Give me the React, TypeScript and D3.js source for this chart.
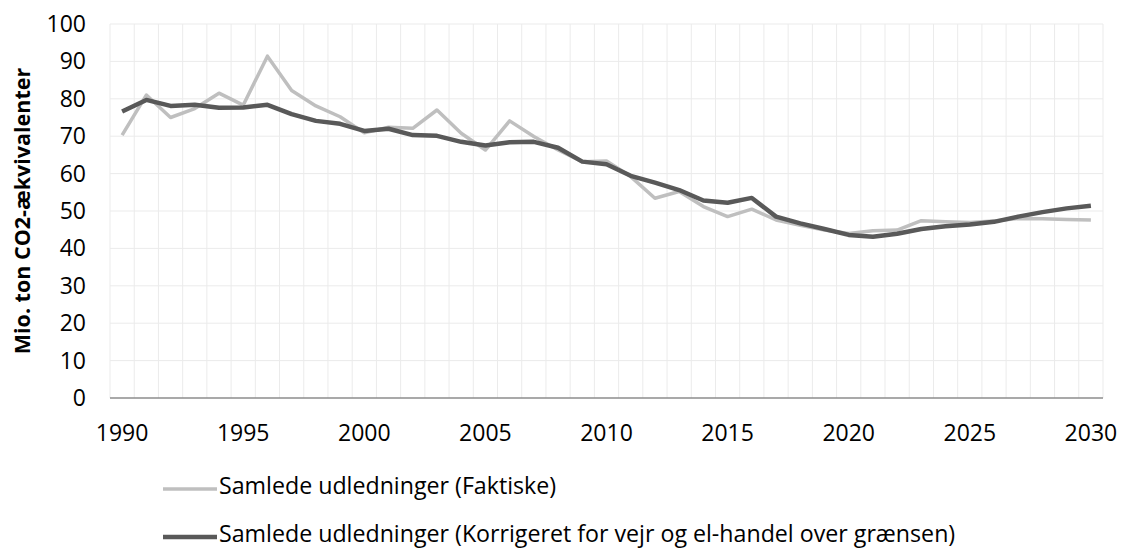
import React, { useEffect, useRef } from 'react';
import * as d3 from 'd3';

// Years on the category axis
const years: number[] = d3.range(1990, 2031);

// Samlede udledninger (Faktiske), Mio. ton CO2-ækvivalenter
const faktiske: number[] = [
    70.3, 81.0, 75.0, 77.4, 81.5, 78.3, 91.4, 82.2, 78.1, 75.2,
    70.9, 72.4, 72.1, 77.0, 70.8, 66.3, 74.1, 69.9, 66.3, 63.2,
    63.4, 59.2, 53.4, 55.2, 51.2, 48.5, 50.5, 47.6, 46.2, 44.9,
    44.0, 44.7, 44.9, 47.4, 47.1, 46.9, 47.3, 48.0, 47.9, 47.7,
    47.6,
];

// Samlede udledninger (Korrigeret for vejr og el-handel over grænsen)
const korrigeret: number[] = [
    76.6, 79.7, 78.1, 78.4, 77.6, 77.7, 78.4, 75.9, 74.1, 73.3,
    71.4, 72.0, 70.3, 70.1, 68.5, 67.5, 68.4, 68.5, 66.9, 63.2,
    62.5, 59.4, 57.6, 55.6, 52.8, 52.2, 53.5, 48.5, 46.7, 45.2,
    43.6, 43.1, 43.9, 45.2, 45.9, 46.4, 47.1, 48.5, 49.7, 50.7,
    51.4,
];

const yTicks: number[] = [0, 10, 20, 30, 40, 50, 60, 70, 80, 90, 100];
const xTickYears: number[] = [1990, 1995, 2000, 2005, 2010, 2015, 2020, 2025, 2030];

const seriesNames: string[] = [
    'Samlede udledninger (Faktiske)',
    'Samlede udledninger (Korrigeret for vejr og el-handel over grænsen)',
];

const App = () => {
    const svgRef = useRef<SVGSVGElement>(null);

    const width = 1121;
    const height = 549;
    const font = '"Open Sans", "Liberation Sans", sans-serif';

    useEffect(() => {
        const svg = d3.select(svgRef.current);
        svg.selectAll('*').remove();

        const left = 110, right = 1103, top = 24, bottom = 398;

        const x = d3.scaleBand<number>().domain(years).range([left, right]).padding(0);
        const y = d3.scaleLinear().domain([0, 100]).range([bottom, top]);
        const cx = (yr: number) => (x(yr) as number) + x.bandwidth() / 2;

        // horizontal gridlines
        svg.append('g')
            .selectAll('line')
            .data(yTicks.filter(t => t > 0))
            .enter()
            .append('line')
            .attr('x1', left).attr('x2', right)
            .attr('y1', d => y(d)).attr('y2', d => y(d))
            .attr('stroke', '#ebebeb')
            .attr('stroke-width', 1);

        // vertical gridlines between categories
        const edges = years.map(yr => x(yr) as number).concat([right]);
        svg.append('g')
            .selectAll('line')
            .data(edges)
            .enter()
            .append('line')
            .attr('x1', d => d).attr('x2', d => d)
            .attr('y1', top).attr('y2', bottom)
            .attr('stroke', '#ebebeb')
            .attr('stroke-width', 1);

        // x axis line
        svg.append('line')
            .attr('x1', left).attr('x2', right)
            .attr('y1', bottom).attr('y2', bottom)
            .attr('stroke', '#8c8c8c')
            .attr('stroke-width', 1.3);

        // y tick labels
        svg.append('g')
            .selectAll('text')
            .data(yTicks)
            .enter()
            .append('text')
            .attr('x', 86)
            .attr('y', d => y(d))
            .attr('dy', '0.35em')
            .attr('text-anchor', 'end')
            .attr('font-family', font)
            .attr('font-size', 23)
            .attr('fill', '#000')
            .text(d => d);

        // x tick labels
        svg.append('g')
            .selectAll('text')
            .data(xTickYears)
            .enter()
            .append('text')
            .attr('x', d => cx(d))
            .attr('y', 441)
            .attr('text-anchor', 'middle')
            .attr('font-family', font)
            .attr('font-size', 23)
            .attr('fill', '#000')
            .text(d => d);

        // y axis title
        svg.append('text')
            .attr('transform', `translate(30, ${(top + bottom) / 2}) rotate(-90)`)
            .attr('text-anchor', 'middle')
            .attr('font-family', font)
            .attr('font-size', 21.5)
            .attr('font-weight', 'bold')
            .attr('fill', '#000')
            .text('Mio. ton CO2-ækvivalenter');

        const line = d3.line<number>()
            .x((_, i) => cx(years[i]))
            .y(d => y(d));

        svg.append('path')
            .datum(faktiske)
            .attr('fill', 'none')
            .attr('stroke', '#bfbfbf')
            .attr('stroke-width', 3.5)
            .attr('stroke-linejoin', 'round')
            .attr('d', line);

        svg.append('path')
            .datum(korrigeret)
            .attr('fill', 'none')
            .attr('stroke', '#595959')
            .attr('stroke-width', 4.5)
            .attr('stroke-linejoin', 'round')
            .attr('d', line);

        // legend
        const legendColors = ['#bfbfbf', '#595959'];
        const legendWidths = [3.5, 4.5];
        const legendY = [489, 537];
        seriesNames.forEach((name, i) => {
            svg.append('line')
                .attr('x1', 163).attr('x2', 217)
                .attr('y1', legendY[i]).attr('y2', legendY[i])
                .attr('stroke', legendColors[i])
                .attr('stroke-width', legendWidths[i]);
            svg.append('text')
                .attr('x', 219)
                .attr('y', legendY[i] + 5)
                .attr('font-family', font)
                .attr('font-size', 23.2)
                .attr('fill', '#000')
                .text(name);
        });
    }, []);

    return (
        <svg
            ref={svgRef}
            width={width}
            height={height}
            style={{ position: 'absolute', left: 0, top: 0, background: '#fff' }}
        />
    );
};

export default App;
